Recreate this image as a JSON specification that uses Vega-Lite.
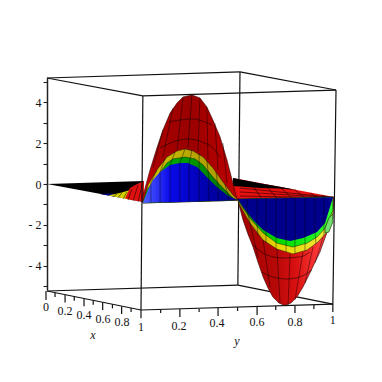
{"$schema":"https://vega.github.io/schema/vega-lite/v6.json","width":287,"height":212,"autosize":"none","padding":{"left":47,"top":78,"right":48,"bottom":92},"background":"white","config":{"view":{"stroke":null}},
"datasets":{
"back":[{"h":0,"z":5.2,"h2":67.24,"z2":5.5},{"h":67.24,"z":5.5,"h2":100.7,"z2":4.61},{"h":0,"z":-5.25,"h2":66.5,"z2":-4.96},{"h":66.5,"z":-4.96,"h2":99.6,"z2":-5.89},{"h":67.24,"z":5.5,"h2":66.5,"z2":-4.96}],
"front":[{"h":0,"z":5.2,"h2":33.4,"z2":4.32},{"h":33.4,"z":4.32,"h2":32.75,"z2":-6.18},{"h":33.4,"z":4.32,"h2":100.7,"z2":4.61},{"h":100.7,"z":4.61,"h2":99.6,"z2":-5.89},{"h":0,"z":-5.25,"h2":32.75,"z2":-6.18},{"h":32.75,"z":-6.18,"h2":99.6,"z2":-5.89},
{"h":-0.35,"z":-5.25,"h2":-0.35,"z2":-5.69},{"h":2.8,"z":-5.34,"h2":2.8,"z2":-5.54},{"h":6.3,"z":-5.44,"h2":6.3,"z2":-5.81},{"h":9.5,"z":-5.53,"h2":9.5,"z2":-5.73},{"h":12.9,"z":-5.63,"h2":12.9,"z2":-6},{"h":16.1,"z":-5.72,"h2":16.1,"z2":-5.92},{"h":19.4,"z":-5.81,"h2":19.4,"z2":-6.18},{"h":22.8,"z":-5.9,"h2":22.8,"z2":-6.1},{"h":26,"z":-6.01,"h2":26,"z2":-6.38},{"h":29.3,"z":-6.08,"h2":29.3,"z2":-6.28},{"h":32.75,"z":-6.18,"h2":32.75,"z2":-6.58},
{"h":39.6,"z":-6.18,"h2":39.6,"z2":-6.33},{"h":46.3,"z":-6.13,"h2":46.3,"z2":-6.53},{"h":53,"z":-6.13,"h2":53,"z2":-6.28},{"h":59.6,"z":-6.08,"h2":59.6,"z2":-6.48},{"h":66.4,"z":-6.04,"h2":66.4,"z2":-6.23},{"h":73.2,"z":-6.04,"h2":73.2,"z2":-6.43},{"h":79.7,"z":-5.99,"h2":79.7,"z2":-6.18},{"h":86.4,"z":-5.99,"h2":86.4,"z2":-6.33},{"h":93,"z":-5.94,"h2":93,"z2":-6.13},{"h":99.6,"z":-5.89,"h2":99.6,"z2":-6.28}],
"wedgeL":[{"h":0,"z":0,"b":0},{"h":33.8,"z":0.15,"b":-0.88}],
"wedgeLblue":[{"h":18.5,"z":-0.49,"b":-0.49},{"h":23,"z":-0.46,"b":-0.61}],
"wedgeLyellow":[{"h":21.3,"z":-0.56,"b":-0.56},{"h":23.7,"z":-0.49,"b":-0.63},{"h":26.1,"z":-0.42,"b":-0.69},{"h":28.9,"z":-0.29,"b":-0.77}],
"wedgeLred":[{"h":27.2,"z":-0.7,"b":-0.7},{"h":28.9,"z":-0.2,"b":-0.77},{"h":31.4,"z":0,"b":-0.84},{"h":33.8,"z":0.15,"b":-0.88}],
"wedgeR":[{"h":64.8,"z":0.29,"b":-0.74},{"h":100,"z":-0.64,"b":-0.64}],
"wedgeRblack":[{"h":64.8,"z":0.29,"b":-0.1},{"h":74.2,"z":0.04,"b":-0.2},{"h":81.2,"z":-0.14,"b":-0.22},{"h":87.1,"z":-0.3,"b":-0.3}],
"wedgeMesh":[{"h":23,"z":-0.64,"h2":24.4,"z2":-0.49},{"h":24.7,"z":-0.67,"h2":26.1,"z2":-0.44},{"h":26.5,"z":-0.72,"h2":27.9,"z2":-0.39},{"h":28.2,"z":-0.78,"h2":29.6,"z2":-0.25},{"h":30,"z":-0.83,"h2":31.7,"z2":-0.05},{"h":31.7,"z":-0.88,"h2":33.4,"z2":0.1},
{"h":67.2,"z":-0.2,"h2":98.6,"z2":-0.64},{"h":67.2,"z":-0.39,"h2":96.9,"z2":-0.64},{"h":67.2,"z":-0.59,"h2":94.4,"z2":-0.66},{"h":70.7,"z":0.1,"h2":74.9,"z2":-0.72},{"h":76,"z":-0.05,"h2":80.1,"z2":-0.69},{"h":81.2,"z":-0.15,"h2":85.4,"z2":-0.69},{"h":86.4,"z":-0.29,"h2":89.9,"z2":-0.69},{"h":91.6,"z":-0.44,"h2":94.4,"z2":-0.69},{"h":95.8,"z":-0.54,"h2":97.9,"z2":-0.66}],
"redUp":[{"h":33.4,"z":-0.6,"b":-0.93},{"h":35.9,"z":0.69,"b":-0.92},{"h":38.3,"z":1.77,"b":-0.91},{"h":40.4,"z":2.65,"b":-0.9},{"h":42.9,"z":3.48,"b":-0.89},{"h":45.3,"z":3.97,"b":-0.88},{"h":47.4,"z":4.27,"b":-0.87},{"h":50.5,"z":4.37,"b":-0.86},{"h":53.3,"z":4.22,"b":-0.85},{"h":55.7,"z":3.78,"b":-0.84},{"h":57.8,"z":3.14,"b":-0.83},{"h":60.3,"z":2.31,"b":-0.82},{"h":62.7,"z":1.18,"b":-0.81},{"h":64.5,"z":0.2,"b":-0.8},{"h":65.8,"z":-0.54,"b":-0.8},{"h":66.5,"z":-0.79,"b":-0.79}],
"yellowUp":[{"h":33.4,"z":-0.93,"b":-0.93},{"h":35.2,"z":-0.05,"b":-0.92},{"h":38.3,"z":0.69,"b":-0.91},{"h":41.8,"z":1.32,"b":-0.89},{"h":45.3,"z":1.62,"b":-0.88},{"h":48.1,"z":1.72,"b":-0.87},{"h":50.9,"z":1.62,"b":-0.86},{"h":54.4,"z":1.32,"b":-0.85},{"h":57.8,"z":0.79,"b":-0.83},{"h":61.3,"z":0.1,"b":-0.82},{"h":64.8,"z":-0.54,"b":-0.8},{"h":66.2,"z":-0.74,"b":-0.79}],
"greenUp":[{"h":33.4,"z":-0.93,"b":-0.93},{"h":34.8,"z":-0.29,"b":-0.92},{"h":38.3,"z":0.34,"b":-0.91},{"h":41.8,"z":1.03,"b":-0.89},{"h":43.9,"z":1.23,"b":-0.89},{"h":48.1,"z":1.32,"b":-0.87},{"h":51.6,"z":1.23,"b":-0.86},{"h":54.4,"z":0.93,"b":-0.85},{"h":57.8,"z":0.34,"b":-0.83},{"h":61.3,"z":-0.2,"b":-0.82},{"h":64.8,"z":-0.69,"b":-0.8},{"h":66.2,"z":-0.79,"b":-0.79}],
"blueUp":[{"h":33.4,"z":-0.93,"b":-0.93},{"h":35.2,"z":-0.29,"b":-0.92},{"h":36.9,"z":0.2,"b":-0.91},{"h":39.4,"z":0.59,"b":-0.9},{"h":42.9,"z":0.93,"b":-0.89},{"h":46.3,"z":1.03,"b":-0.88},{"h":49.1,"z":1.03,"b":-0.87},{"h":52.3,"z":0.83,"b":-0.86},{"h":55.7,"z":0.34,"b":-0.84},{"h":59.2,"z":-0.15,"b":-0.83},{"h":62.7,"z":-0.54,"b":-0.81},{"h":66.2,"z":-0.79,"b":-0.79}],
"redLow":[{"h":66.5,"z":-0.8,"b":-0.74},{"h":68.3,"z":-1.77,"b":-0.74},{"h":70,"z":-2.45,"b":-0.73},{"h":71.8,"z":-3.09,"b":-0.72},{"h":73.5,"z":-3.83,"b":-0.72},{"h":75.3,"z":-4.56,"b":-0.71},{"h":77,"z":-5.1,"b":-0.71},{"h":78.7,"z":-5.54,"b":-0.7},{"h":80.8,"z":-5.84,"b":-0.7},{"h":82.9,"z":-5.96,"b":-0.69},{"h":85,"z":-5.84,"b":-0.69},{"h":87.1,"z":-5.54,"b":-0.68},{"h":89.2,"z":-5.05,"b":-0.68},{"h":91.6,"z":-4.37,"b":-0.67},{"h":93.4,"z":-3.83,"b":-0.66},{"h":95.1,"z":-3.34,"b":-0.66},{"h":97.6,"z":-2.36,"b":-0.65},{"h":99.6,"z":-1.67,"b":-0.64},{"h":100,"z":-0.64,"b":-0.64}],
"yellowLow":[{"h":66.5,"z":-0.74,"b":-0.74},{"h":67,"z":-1,"b":-0.74},{"h":70.7,"z":-1.91,"b":-0.73},{"h":75.3,"z":-2.75,"b":-0.71},{"h":80.1,"z":-3.19,"b":-0.7},{"h":85.7,"z":-3.43,"b":-0.69},{"h":90.6,"z":-3.24,"b":-0.67},{"h":94.4,"z":-2.85,"b":-0.66},{"h":97.6,"z":-2.36,"b":-0.65},{"h":99.6,"z":-1.47,"b":-0.64}],
"greenLow":[{"h":66.5,"z":-0.74,"b":-0.74},{"h":67,"z":-0.9,"b":-0.74},{"h":70.7,"z":-1.67,"b":-0.73},{"h":75.3,"z":-2.4,"b":-0.71},{"h":80.1,"z":-2.9,"b":-0.7},{"h":85.7,"z":-3.09,"b":-0.69},{"h":90.6,"z":-2.9,"b":-0.67},{"h":94.1,"z":-2.6,"b":-0.66},{"h":96.9,"z":-2.16,"b":-0.65},{"h":99.6,"z":-1.3,"b":-0.64}],
"ear":[{"h":96.9,"z":-2.16,"b":-2.4},{"h":98.2,"z":-1.67,"b":-2.36},{"h":99.6,"z":-1.47,"b":-1.86}],
"blueLow":[{"h":66.5,"z":-0.74,"b":-0.74},{"h":68.3,"z":-1.13,"b":-0.74},{"h":71.8,"z":-1.77,"b":-0.72},{"h":75.3,"z":-2.26,"b":-0.71},{"h":80.1,"z":-2.65,"b":-0.7},{"h":84.7,"z":-2.8,"b":-0.69},{"h":89.2,"z":-2.65,"b":-0.68},{"h":94.1,"z":-2.36,"b":-0.66},{"h":96.9,"z":-1.91,"b":-0.65},{"h":98.6,"z":-1.13,"b":-0.65},{"h":99.6,"z":-0.69,"b":-0.64}],
"arcs":[{"a":"A","h":42.5,"z":3.04},{"a":"A","h":46.3,"z":3.14},{"a":"A","h":50.9,"z":3.19},{"a":"A","h":55,"z":3.04},{"a":"A","h":57.5,"z":2.9},
{"a":"B","h":39.4,"z":1.77},{"a":"B","h":43.9,"z":2.06},{"a":"B","h":48.8,"z":2.21},{"a":"B","h":54,"z":2.06},{"a":"B","h":57.8,"z":1.77},{"a":"B","h":60.3,"z":1.32},
{"a":"C","h":71.8,"z":-2.99},{"a":"C","h":76.6,"z":-3.48},{"a":"C","h":82.2,"z":-3.63},{"a":"C","h":88.1,"z":-3.58},{"a":"C","h":91.6,"z":-3.34},
{"a":"D","h":74.9,"z":-4.32},{"a":"D","h":78.7,"z":-4.56},{"a":"D","h":83.6,"z":-4.66},{"a":"D","h":88.1,"z":-4.56},{"a":"D","h":92.3,"z":-4.22}],
"columns":[{"h":43.9,"z":3.73,"h2":40.4,"z2":1.32},{"h":47.4,"z":4.22,"h2":45.3,"z2":1.67},{"h":50.5,"z":4.37,"h2":49.1,"z2":1.77},{"h":53.3,"z":4.22,"h2":52.6,"z2":1.57},{"h":55.7,"z":3.78,"h2":56.1,"z2":1.18},{"h":58.5,"z":2.99,"h2":59.6,"z2":0.69},{"h":61.3,"z":2.01,"h2":62.7,"z2":0.05},{"h":40.4,"z":2.65,"h2":36.9,"z2":0.79},
{"h":36.2,"z":-0.93,"h2":36.2,"z2":0.05},{"h":36.2,"z":0.05,"h2":38.3,"z2":0.69},{"h":39.4,"z":-0.93,"h2":39.4,"z2":0.59},{"h":39.4,"z":0.59,"h2":41.1,"z2":1.23},{"h":42.9,"z":-0.89,"h2":42.9,"z2":0.93},{"h":42.9,"z":0.93,"h2":44.6,"z2":1.57},{"h":46.3,"z":-0.88,"h2":46.3,"z2":1.03},{"h":46.3,"z":1.03,"h2":48.1,"z2":1.72},{"h":49.5,"z":-0.87,"h2":49.5,"z2":0.98},{"h":49.5,"z":0.98,"h2":50.5,"z2":1.67},{"h":53,"z":-0.85,"h2":53,"z2":0.79},{"h":53,"z":0.79,"h2":53,"z2":1.52},{"h":56.4,"z":-0.84,"h2":56.4,"z2":0.25},{"h":56.4,"z":0.25,"h2":55.7,"z2":1.18},{"h":59.6,"z":-0.83,"h2":59.6,"z2":-0.2},{"h":59.6,"z":-0.2,"h2":58.9,"z2":0.59},{"h":63.1,"z":-0.81,"h2":63.1,"z2":-0.54},{"h":63.1,"z":-0.54,"h2":62,"z2":0},
{"h":69.7,"z":-0.74,"h2":69.7,"z2":-1.28},{"h":69.7,"z":-1.28,"h2":70.7,"z2":-1.91},{"h":73.2,"z":-0.72,"h2":73.2,"z2":-2.01},{"h":73.2,"z":-2.01,"h2":73.5,"z2":-2.55},{"h":76.3,"z":-0.71,"h2":76.3,"z2":-2.9},{"h":79.8,"z":-0.7,"h2":79.8,"z2":-3.19},{"h":83.3,"z":-0.69,"h2":83.3,"z2":-3.34},{"h":86.4,"z":-0.68,"h2":86.4,"z2":-3.43},{"h":89.9,"z":-0.68,"h2":89.9,"z2":-3.29},{"h":93.4,"z":-0.66,"h2":93.4,"z2":-2.4},{"h":93.4,"z":-2.4,"h2":93.7,"z2":-2.94},{"h":96.5,"z":-0.65,"h2":96.5,"z2":-2.55},
{"h":70.7,"z":-1.91,"h2":73.5,"z2":-3.58},{"h":75.3,"z":-2.75,"h2":77.7,"z2":-5.05},{"h":80.1,"z":-3.19,"h2":81.2,"z2":-5.84},{"h":84.7,"z":-3.43,"h2":84,"z2":-5.94},{"h":89.2,"z":-3.34,"h2":86.4,"z2":-5.69},{"h":92.7,"z":-3.09,"h2":89.9,"z2":-4.86},{"h":96.2,"z":-2.6,"h2":93.4,"z2":-3.88}],
"labels":[{"h":-0.35,"z":-6.04,"t":"0"},{"h":6.3,"z":-6.23,"t":"0.2"},{"h":12.9,"z":-6.43,"t":"0.4"},{"h":19.5,"z":-6.62,"t":"0.6"},{"h":26.1,"z":-6.77,"t":"0.8"},{"h":32.75,"z":-7.02,"t":"1"},{"h":46,"z":-6.97,"t":"0.2"},{"h":59.2,"z":-6.82,"t":"0.4"},{"h":73.2,"z":-6.77,"t":"0.6"},{"h":86.4,"z":-6.77,"t":"0.8"},{"h":99.6,"z":-6.67,"t":"1"}],
"titles":[{"h":16,"z":-7.41,"t":"x"},{"h":66.2,"z":-7.7,"t":"y"}]
},
"encoding":{
"x":{"field":"h","type":"quantitative","scale":{"domain":[0,100],"nice":false,"zero":false},"axis":null},
"y":{"field":"z","type":"quantitative","scale":{"domain":[-5.2,5.2],"nice":false,"zero":false},"axis":{"title":null,"values":[-5,-4,-3,-2,-1,0,1,2,3,4,5],"grid":false,"tickSize":4,"tickColor":"#222","domainColor":"#222","domainWidth":1.5,"tickWidth":1.1,"labelFont":"Liberation Serif","labelFontSize":12,"labelColor":"#111","labelPadding":2,"labelExpr":"datum.value%2!=0?'':(datum.value<0?'- '+abs(datum.value):''+datum.value)"}}
},
"layer":[
{"data":{"name":"back"},"mark":{"type":"rule","color":"#111","strokeWidth":1.2},"encoding":{"x2":{"field":"h2"},"y2":{"field":"z2"}}},
{"data":{"name":"wedgeL"},"mark":{"type":"area","fill":"#000000"},"encoding":{"y2":{"field":"b"}}},
{"data":{"name":"wedgeLblue"},"mark":{"type":"area","fill":"#00008c"},"encoding":{"y2":{"field":"b"}}},
{"data":{"name":"wedgeLyellow"},"mark":{"type":"area","fill":"#d8d000"},"encoding":{"y2":{"field":"b"}}},
{"data":{"name":"wedgeLred"},"mark":{"type":"area","fill":"#e01010"},"encoding":{"y2":{"field":"b"}}},
{"data":{"name":"wedgeR"},"mark":{"type":"area","fill":"#e81010"},"encoding":{"y2":{"field":"b"}}},
{"data":{"name":"wedgeRblack"},"mark":{"type":"area","fill":"#000000"},"encoding":{"y2":{"field":"b"}}},
{"data":{"name":"wedgeMesh"},"mark":{"type":"rule","color":"#000","strokeWidth":0.7,"opacity":0.75},"encoding":{"x2":{"field":"h2"},"y2":{"field":"z2"}}},
{"data":{"name":"redLow"},"mark":{"type":"area","stroke":"#300","strokeWidth":0.6,"fill":{"gradient":"linear","x1":0,"y1":0,"x2":1,"y2":0,"stops":[{"offset":0,"color":"#a00000"},{"offset":0.4,"color":"#b80808"},{"offset":0.6,"color":"#d81010"},{"offset":0.85,"color":"#ff3a3a"},{"offset":1,"color":"#f03030"}]}},"encoding":{"y2":{"field":"b"}}},
{"data":{"name":"redUp"},"mark":{"type":"area","stroke":"#300","strokeWidth":0.6,"fill":{"gradient":"linear","x1":0,"y1":0,"x2":1,"y2":0,"stops":[{"offset":0,"color":"#d00808"},{"offset":0.15,"color":"#a80000"},{"offset":0.5,"color":"#9a0000"},{"offset":1,"color":"#c00000"}]}},"encoding":{"y2":{"field":"b"}}},
{"data":{"name":"arcs"},"mark":{"type":"line","color":"#000","strokeWidth":0.7,"opacity":0.7,"interpolate":"monotone"},"encoding":{"detail":{"field":"a"}}},
{"data":{"name":"yellowUp"},"mark":{"type":"area","stroke":"#220","strokeWidth":0.5,"fill":{"gradient":"linear","x1":0,"y1":0,"x2":1,"y2":0,"stops":[{"offset":0,"color":"#d8c800"},{"offset":0.5,"color":"#b8a800"},{"offset":1,"color":"#a89800"}]}},"encoding":{"y2":{"field":"b"}}},
{"data":{"name":"greenUp"},"mark":{"type":"area","stroke":"#020","strokeWidth":0.5,"fill":{"gradient":"linear","x1":0,"y1":0,"x2":1,"y2":0,"stops":[{"offset":0,"color":"#00b800"},{"offset":0.5,"color":"#009800"},{"offset":1,"color":"#007000"}]}},"encoding":{"y2":{"field":"b"}}},
{"data":{"name":"blueUp"},"mark":{"type":"area","fill":{"gradient":"linear","x1":0,"y1":0,"x2":1,"y2":0,"stops":[{"offset":0,"color":"#5060ff"},{"offset":0.3,"color":"#0808e8"},{"offset":0.7,"color":"#0000a8"},{"offset":1,"color":"#000088"}]}},"encoding":{"y2":{"field":"b"}}},
{"data":{"name":"yellowLow"},"mark":{"type":"area","stroke":"#220","strokeWidth":0.5,"fill":{"gradient":"linear","x1":0,"y1":0,"x2":1,"y2":0,"stops":[{"offset":0,"color":"#a09000"},{"offset":0.4,"color":"#e8d800"},{"offset":1,"color":"#f0e840"}]}},"encoding":{"y2":{"field":"b"}}},
{"data":{"name":"greenLow"},"mark":{"type":"area","stroke":"#020","strokeWidth":0.5,"fill":{"gradient":"linear","x1":0,"y1":0,"x2":1,"y2":0,"stops":[{"offset":0,"color":"#008000"},{"offset":0.4,"color":"#00d800"},{"offset":1,"color":"#30ff30"}]}},"encoding":{"y2":{"field":"b"}}},
{"data":{"name":"ear"},"mark":{"type":"area","fill":"#70e070","stroke":"#240","strokeWidth":0.7},"encoding":{"y2":{"field":"b"}}},
{"data":{"name":"blueLow"},"mark":{"type":"area","fill":"#00008c"},"encoding":{"y2":{"field":"b"}}},
{"data":{"name":"columns"},"mark":{"type":"rule","color":"#000","strokeWidth":0.7,"opacity":0.6},"encoding":{"x2":{"field":"h2"},"y2":{"field":"z2"}}},
{"data":{"name":"front"},"mark":{"type":"rule","color":"#111","strokeWidth":1.2},"encoding":{"x2":{"field":"h2"},"y2":{"field":"z2"}}},
{"data":{"name":"labels"},"mark":{"type":"text","font":"Liberation Serif","fontSize":12,"color":"#111","align":"center","baseline":"middle"},"encoding":{"text":{"field":"t"}}},
{"data":{"name":"titles"},"mark":{"type":"text","font":"Liberation Serif","fontStyle":"italic","fontSize":12,"color":"#111","align":"center","baseline":"middle"},"encoding":{"text":{"field":"t"}}}
]}
